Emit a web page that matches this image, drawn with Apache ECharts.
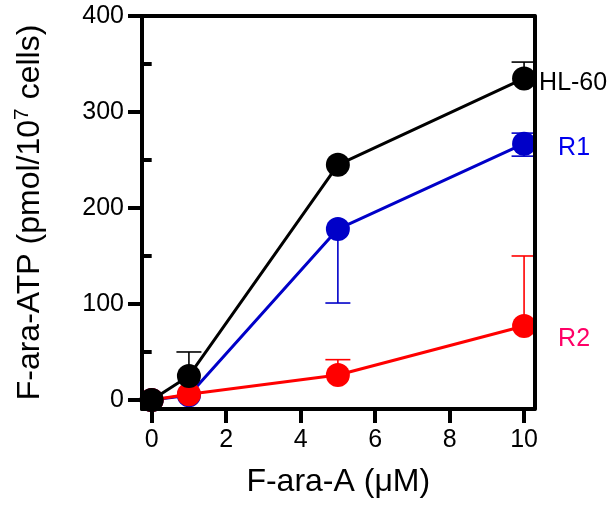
<!DOCTYPE html>
<html>
<head>
<meta charset="utf-8">
<script src="https://cdn.jsdelivr.net/npm/echarts@6/dist/echarts.min.js"></script>
<style>
html,body{margin:0;padding:0;background:#fff;}
#chart{width:612px;height:506px;}
</style>
</head>
<body>
<div id="chart"></div>
<script>
var doses = [0, 1, 5, 10];
var hl60 = [0, 25, 245, 335];
var r1 = [0, 5, 178, 267];
var r2 = [0, 6, 26, 77];
// error bars: [dose, mean, end]
var hl60Err = [[1, 25, 50], [10, 335, 352]];
var r1Err = [[5, 178, 101], [10, 267, 254], [10, 267, 278]];
var r2Err = [[5, 26, 42], [10, 77, 150]];
var xTicks = [0, 2, 4, 6, 8, 10];
var yTicks = [0, 100, 200, 300, 400];
var yMinor = [50, 150, 250, 350];

var font = "'Liberation Sans', Arial, sans-serif";
var xMin = -0.26, xMax = 10.28, yMin = -9.4, yMax = 400;

function pairs(ys){
	var out = [];
	for(var i=0;i<doses.length;i++){
		out.push([doses[i], ys[i]]);
	}
	return out;
}

function errSeries(data, color, z){
	return {
		type: 'custom',
		z: z,
		data: data,
		renderItem: function(params, api){
			var a = api.coord([api.value(0), api.value(1)]);
			var b = api.coord([api.value(0), api.value(2)]);
			return {
				type: 'group',
				children: [
					{type: 'line', shape: {x1: a[0], y1: a[1], x2: b[0], y2: b[1]}, style: {stroke: color, lineWidth: 1.6}},
					{type: 'line', shape: {x1: b[0]-12.5, y1: b[1], x2: b[0]+12.5, y2: b[1]}, style: {stroke: color, lineWidth: 1.6}}
				]
			};
		}
	};
}

function lineSeries(ys, color, name, labelColor, dist, off, z){
	return {
		type: 'line',
		name: name,
		z: z,
		data: pairs(ys),
		symbol: 'circle',
		symbolSize: 24,
		clip: false,
		lineStyle: {color: color, width: 3},
		itemStyle: {color: color},
		endLabel: {
			show: true,
			formatter: name,
			color: labelColor,
			fontSize: 25,
			fontFamily: font,
			distance: dist,
			offset: off
		}
	};
}

var chart = echarts.init(document.getElementById('chart'));
chart.setOption({
	animation: false,
	backgroundColor: '#fff',
	grid: {left: 142, top: 16, right: 77.5, bottom: 97},
	xAxis: [{
		type: 'value', min: xMin, max: xMax, position: 'bottom', z: 10,
		splitLine: {show: false},
		axisLine: {show: true, onZero: false, lineStyle: {color: '#000', width: 4}},
		axisTick: {show: true, inside: false, length: 14, customValues: xTicks, lineStyle: {color: '#000', width: 4}},
		axisLabel: {customValues: xTicks, color: '#000', fontSize: 25, fontFamily: font, margin: 19},
		name: 'F-ara-A (\u03bcM)', nameLocation: 'middle', nameGap: 57,
		nameTextStyle: {color: '#000', fontSize: 32, fontFamily: font}
	}, {
		type: 'value', min: xMin, max: xMax, position: 'top', z: 10,
		splitLine: {show: false},
		axisLine: {show: true, onZero: false, lineStyle: {color: '#000', width: 4}},
		axisTick: {show: false}, axisLabel: {show: false}
	}],
	yAxis: [{
		type: 'value', min: yMin, max: yMax, position: 'left', z: 10,
		splitLine: {show: false},
		axisLine: {show: true, onZero: false, lineStyle: {color: '#000', width: 4}},
		axisTick: {show: true, inside: false, length: 14, customValues: yTicks, lineStyle: {color: '#000', width: 4}},
		axisLabel: {customValues: yTicks, color: '#000', fontSize: 25, fontFamily: font, margin: 18},
		name: '{a|F-ara-ATP (pmol/10}{s|7}{a| cells)}', nameLocation: 'middle', nameGap: 93,
		nameTextStyle: {
			color: '#000', fontFamily: font,
			rich: {
				a: {fontSize: 32, fontFamily: font, color: '#000'},
				s: {fontSize: 21, fontFamily: font, color: '#000', padding: [0, 0, 16, 0]}
			}
		}
	}, {
		type: 'value', min: yMin, max: yMax, position: 'right', z: 10,
		splitLine: {show: false},
		axisLine: {show: true, onZero: false, lineStyle: {color: '#000', width: 4}},
		axisTick: {show: false}, axisLabel: {show: false}
	}, {
		type: 'value', min: yMin, max: yMax, position: 'left', z: 10,
		splitLine: {show: false},
		axisLine: {show: false},
		axisTick: {show: true, inside: false, length: 9, customValues: yMinor, lineStyle: {color: '#000', width: 4}},
		axisLabel: {show: false}
	}],
	series: [
		errSeries(r1Err, '#0000c8', 1),
		lineSeries(r1, '#0000c8', 'R1', '#0000ee', 34, [0, 4], 2),
		errSeries(r2Err, '#ff0000', 3),
		lineSeries(r2, '#ff0000', 'R2', '#ff0066', 34, [0, 13], 4),
		errSeries(hl60Err, '#000000', 5),
		lineSeries(hl60, '#000000', 'HL-60', '#000000', 15, [0, 5], 6)
	]
});
</script>
</body>
</html>
